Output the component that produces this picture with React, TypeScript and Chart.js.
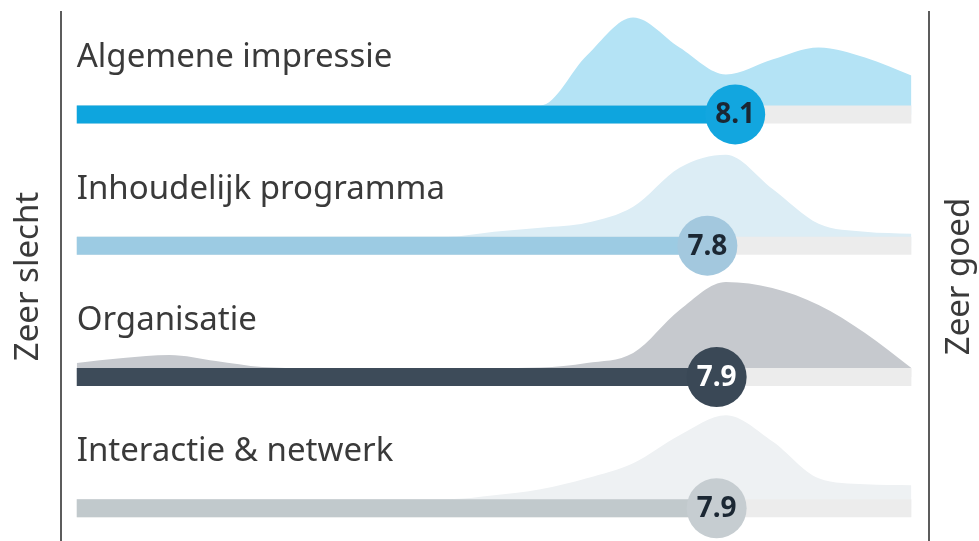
import { useEffect, useRef } from "react";
import { Chart, registerables } from "chart.js";

Chart.register(...registerables);

// ---------- data ----------
const CATEGORIES = ["Algemene impressie", "Inhoudelijk programma", "Organisatie", "Interactie & netwerk"];
const SCORES = [8.1, 7.8, 7.9, 7.9];
const SCORE_LABELS = ["8.1", "7.8", "7.9", "7.9"];
const SCALE_MIN = 1;
const SCALE_MAX = 10;
const LEFT_LABEL = "Zeer slecht";
const RIGHT_LABEL = "Zeer goed";

// distribution of answers (relative density) sampled along the 1–10 scale
const DENSITY_X = [1, 1.5, 2, 2.5, 3, 3.5, 4, 4.5, 5, 5.5, 6, 6.5, 7, 7.5, 8, 8.5, 9, 9.5, 10];
const DENSITY_ALGEMENE = [0, 0, 0, 0, 0, 0, 0, 0, 0, 0, 0, 50, 88, 58, 31, 46, 58, 48, 30];
const DENSITY_INHOUD = [0, 0, 0, 0, 0, 0, 0, 0, 0, 5, 9, 14, 30, 69, 82, 48, 13, 5, 3];
const DENSITY_ORGANISATIE = [5, 10, 13, 7, 1, 0, 0, 0, 0, 0, 0.5, 5, 15, 58, 86, 80, 63, 35, 0];
const DENSITY_INTERACTIE = [0, 0, 0, 0, 0, 0, 0, 0, 0, 4, 10, 21, 36, 64, 84, 58, 21, 15, 14];
const DENSITIES = [DENSITY_ALGEMENE, DENSITY_INHOUD, DENSITY_ORGANISATIE, DENSITY_INTERACTIE];

// ---------- styling ----------
const ROW_Y = [3, 2, 1, 0];
const BAR_COLORS = ["#0ea5de", "#9ccbe3", "#3d4b59", "#c1c9cc"];
const DOT_COLORS = ["#12a6df", "#a3c8de", "#3a4856", "#c6cdd1"];
const DOT_TEXT = ["#1b2733", "#1b2733", "#ffffff", "#1b2733"];
const AREA_COLORS = ["#b4e3f5", "#dcedf5", "#c6c9ce", "#eef1f3"];
const TRACK_COLOR = "#ececec";
const ROW_PX = 131.3;
const BAR_PX = 18;
const FONT = '"Noto Sans", sans-serif';

export default function App() {
  const canvasRef = useRef<HTMLCanvasElement | null>(null);

  useEffect(() => {
    if (!canvasRef.current) return;
    const halfBar = BAR_PX / 2 / ROW_PX;
    const datasets: any[] = [];

    // circles (drawn on top)
    datasets.push({
      type: "line",
      label: "scores",
      data: SCORES.map((v, i) => ({ x: v, y: ROW_Y[i] })),
      showLine: false,
      pointRadius: 30,
      pointHoverRadius: 30,
      pointBorderWidth: 0,
      pointBackgroundColor: DOT_COLORS,
      order: 0,
      clip: false,
    });

    CATEGORIES.forEach((_, i) => {
      const yc = ROW_Y[i];
      datasets.push({
        type: "line",
        label: "bar" + i,
        data: [
          { x: SCALE_MIN, y: yc },
          { x: SCORES[i], y: yc },
        ],
        borderColor: BAR_COLORS[i],
        borderWidth: BAR_PX,
        borderCapStyle: "butt",
        pointRadius: 0,
        order: 1,
        clip: false,
      });
      datasets.push({
        type: "line",
        label: "track" + i,
        data: [
          { x: SCALE_MIN, y: yc },
          { x: SCALE_MAX, y: yc },
        ],
        borderColor: TRACK_COLOR,
        borderWidth: BAR_PX,
        borderCapStyle: "butt",
        pointRadius: 0,
        order: 2,
        clip: false,
      });
      datasets.push({
        type: "line",
        label: "density" + i,
        data: DENSITY_X.map((x, k) => ({ x, y: yc + halfBar + DENSITIES[i][k] / ROW_PX })),
        borderWidth: 0,
        borderColor: "rgba(0,0,0,0)",
        backgroundColor: AREA_COLORS[i],
        fill: { value: yc },
        cubicInterpolationMode: "monotone",
        pointRadius: 0,
        order: 3,
        clip: false,
      });
    });

    const textPlugin = {
      id: "rowText",
      afterDatasetsDraw(chart: any) {
        const { ctx, chartArea, scales } = chart;
        const xs = scales.x;
        const ys = scales.y;
        ctx.save();
        ctx.font = `33px ${FONT}`;
        ctx.fillStyle = "#3a3a3a";
        ctx.textAlign = "left";
        ctx.textBaseline = "alphabetic";
        CATEGORIES.forEach((c, i) => {
          ctx.fillText(c, xs.getPixelForValue(SCALE_MIN), ys.getPixelForValue(ROW_Y[i]) - 47);
        });
        const meta = chart.getDatasetMeta(0);
        ctx.font = `bold 28px ${FONT}`;
        ctx.textAlign = "center";
        ctx.textBaseline = "middle";
        meta.data.forEach((pt: any, i: number) => {
          ctx.fillStyle = DOT_TEXT[i];
          ctx.fillText(SCORE_LABELS[i], pt.x, pt.y + 1);
        });
        ctx.font = `33px ${FONT}`;
        ctx.fillStyle = "#3a3a3a";
        ctx.translate(chartArea.right + 31, (chartArea.top + chartArea.bottom) / 2);
        ctx.rotate(-Math.PI / 2);
        ctx.fillText(RIGHT_LABEL, 0, 0);
        ctx.restore();
      },
    };

    const chart = new Chart(canvasRef.current, {
      type: "line",
      data: { datasets },
      options: {
        animation: false,
        responsive: false,
        events: [],
        layout: { autoPadding: false, padding: { left: 9, right: 50, top: 12, bottom: 0 } },
        plugins: { legend: { display: false }, tooltip: { enabled: false } },
        scales: {
          x: { type: "linear", min: 0.83, max: 10.19, display: false },
          y: {
            type: "linear",
            position: "left",
            min: -0.25,
            max: 3.78,
            grid: { display: false, drawTicks: false },
            ticks: { display: false },
            border: { display: true, color: "#5c5c5c", width: 2 },
            title: {
              display: true,
              text: LEFT_LABEL,
              color: "#3a3a3a",
              font: { family: FONT, size: 33 },
              padding: { top: 0, bottom: 12.4 },
            },
          },
          y2: {
            type: "linear",
            position: "right",
            min: -0.25,
            max: 3.78,
            grid: { display: false, drawTicks: false },
            ticks: { display: false },
            border: { display: true, color: "#5c5c5c", width: 2 },
          },
        },
      },
      plugins: [textPlugin],
    });
    return () => chart.destroy();
  }, []);

  return (
    <div style={{ position: "absolute", left: 0, top: 0, width: 979, height: 541, background: "#fff" }}>
      <canvas ref={canvasRef} width={979} height={541} />
    </div>
  );
}
